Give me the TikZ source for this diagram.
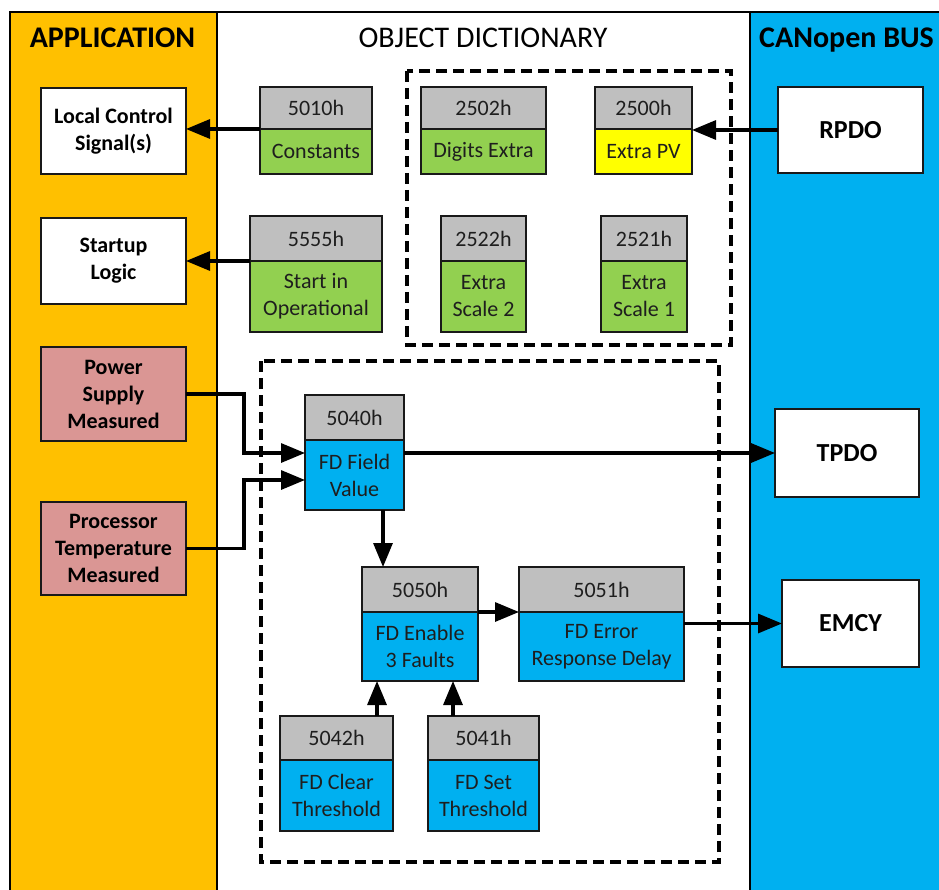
\documentclass[tikz,border=0pt]{standalone}
\usepackage{fontspec}
\setmainfont{Carlito}
\usetikzlibrary{arrows.meta}
\definecolor{appor}{HTML}{FFC000}
\definecolor{busblue}{HTML}{00B0F0}
\definecolor{objgreen}{HTML}{92D050}
\definecolor{hdrgray}{HTML}{BFBFBF}
\definecolor{pvyellow}{HTML}{FFFF00}
\definecolor{measpink}{HTML}{DA9694}
\definecolor{txtdark}{HTML}{1E1E1E}
\begin{document}
\begin{tikzpicture}[x=1pt,y=-1pt,
  box/.style={draw=black!90, line width=1.6pt, anchor=north west, inner sep=0pt, outer sep=0pt,
    align=center, text=txtdark, font=\fontsize{22}{27}\selectfont},
  hdr/.style={box, fill=hdrgray},
  grn/.style={box, fill=objgreen},
  ylw/.style={box, fill=pvyellow},
  blu/.style={box, fill=busblue},
  appbox/.style={box, fill=white, text=black, font=\bfseries\fontsize{22}{27}\selectfont},
  measbox/.style={appbox, fill=measpink},
  busbox/.style={box, fill=white, text=black, font=\bfseries\fontsize{26}{31}\selectfont},
  arr/.style={line width=3.2pt, -{Triangle[length=24pt,width=19pt]}},
  dashbox/.style={line width=3.2pt, dash pattern=on 11pt off 6pt},
  frameline/.style={line width=1.8pt},
  ttl/.style={inner sep=0pt, font=\fontsize{30}{36}\selectfont}
]
\useasboundingbox (0,0) rectangle (939,890);
% panels
\fill[appor] (10,12) rectangle (217,890);
\fill[white] (217,12) rectangle (750,890);
\fill[busblue] (750,12) rectangle (939,890);
\draw[frameline] (10,890) -- (10,12) -- (939,12);
\draw[frameline] (217,12) -- (217,890);
\draw[frameline] (750,12) -- (750,890);
% titles
\node[ttl, anchor=base, font=\bfseries\fontsize{30}{36}\selectfont] (tapp) at (112.5,48) {APPLICATION};
\node[ttl, anchor=base] (tod) at (483,48) {OBJECT DICTIONARY};
\node[ttl, anchor=base west, font=\bfseries\fontsize{30}{36}\selectfont] (tbus) at (759,48) {CANopen BUS};
% dashed groups
\draw[dashbox] (407,71) rectangle (731,345);
\draw[dashbox] (261,361) rectangle (719,862);
% application boxes
\node[appbox, minimum width=145pt, minimum height=86pt] (lcs) at (41,88) {Local Control\\Signal(s)};
\node[appbox, minimum width=145pt, minimum height=86pt] (sl) at (41,218) {Startup\\Logic};
\node[measbox, minimum width=145pt, minimum height=94pt] (psm) at (41,347) {Power\\Supply\\Measured};
\node[measbox, minimum width=145pt, minimum height=93pt] (ptm) at (41,502) {Processor\\Temperature\\Measured};
% bus boxes
\node[busbox, minimum width=145pt, minimum height=86pt] (rpdo) at (778,87) {RPDO};
\node[busbox, minimum width=144pt, minimum height=88pt] (tpdo) at (775,409) {TPDO};
\node[busbox, minimum width=137pt, minimum height=87pt] (emcy) at (782,580) {EMCY};
% object entries
\node[hdr, minimum width=112pt, minimum height=42pt] (h5010) at (260,87) {5010h};
\node[grn, minimum width=112pt, minimum height=45pt] (b5010) at (260,129) {Constants};
\node[hdr, minimum width=125pt, minimum height=42pt] (h2502) at (421,87) {2502h};
\node[grn, minimum width=125pt, minimum height=45pt] (b2502) at (421,129) {Digits Extra};
\node[hdr, minimum width=97pt, minimum height=42pt] (h2500) at (595,87) {2500h};
\node[ylw, minimum width=97pt, minimum height=45pt] (b2500) at (595,129) {Extra PV};
\node[hdr, minimum width=132pt, minimum height=45pt] (h5555) at (250,216) {5555h};
\node[grn, minimum width=132pt, minimum height=71pt] (b5555) at (250,261) {Start in\\Operational};
\node[hdr, minimum width=85pt, minimum height=45pt] (h2522) at (441,216) {2522h};
\node[grn, minimum width=85pt, minimum height=71pt] (b2522) at (441,261) {Extra\\Scale 2};
\node[hdr, minimum width=86pt, minimum height=45pt] (h2521) at (601,216) {2521h};
\node[grn, minimum width=86pt, minimum height=71pt] (b2521) at (601,261) {Extra\\Scale 1};
\node[hdr, minimum width=99pt, minimum height=45pt] (h5040) at (305,395) {5040h};
\node[blu, minimum width=99pt, minimum height=70pt] (b5040) at (305,440) {FD Field\\Value};
\node[hdr, minimum width=116pt, minimum height=45pt] (h5050) at (362,567) {5050h};
\node[blu, minimum width=116pt, minimum height=69pt] (b5050) at (362,612) {FD Enable\\3 Faults};
\node[hdr, minimum width=165pt, minimum height=45pt] (h5051) at (519,567) {5051h};
\node[blu, minimum width=165pt, minimum height=69pt] (b5051) at (519,612) {FD Error\\Response Delay};
\node[hdr, minimum width=113pt, minimum height=44pt] (h5042) at (280,716) {5042h};
\node[blu, minimum width=113pt, minimum height=71pt] (b5042) at (280,760) {FD Clear\\Threshold};
\node[hdr, minimum width=111pt, minimum height=44pt] (h5041) at (428,716) {5041h};
\node[blu, minimum width=111pt, minimum height=71pt] (b5041) at (428,760) {FD Set\\Threshold};
% connectors
\coordinate (jx) at (244,0);
\draw[arr] (b5010.north west) -- (b5010.north west -| lcs.east);
\draw[arr] (b5555.north west) -- (b5555.north west -| sl.east);
\draw[arr] (rpdo.west) -- (rpdo.west -| b2500.east);
\draw[arr] (psm.east) -- (psm.east -| jx) |- ([yshift=22pt]b5040.west);
\draw[arr] (ptm.east) -- (ptm.east -| jx) |- ([yshift=-5pt]b5040.west);
\draw[arr] ([yshift=22pt]b5040.east) -- ([yshift=22pt]b5040.east -| tpdo.west);
\draw[arr] ([xshift=28.5pt]b5040.south) -- ([xshift=28.5pt]b5040.south |- h5050.north);
\draw[arr] (b5050.north east) -- (b5051.north west);
\draw[arr] (b5051.east |- emcy.west) -- (emcy.west);
\draw[arr] ([xshift=40.5pt]h5042.north) -- ([xshift=40.5pt]h5042.north |- b5050.south);
\draw[arr] ([xshift=-30.5pt]h5041.north) -- ([xshift=-30.5pt]h5041.north |- b5050.south);
\end{tikzpicture}
\end{document}
